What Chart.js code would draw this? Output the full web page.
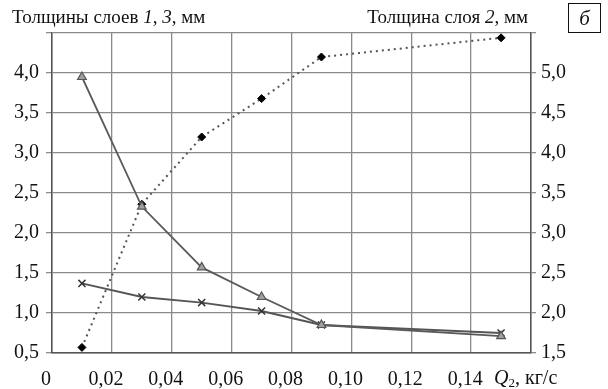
<!DOCTYPE html>
<html>
<head>
<meta charset="utf-8">
<script src="https://cdn.jsdelivr.net/npm/chart.js@4"></script>
<style>
  body { margin: 0; background: #fff; }
  #wrap { width: 608px; height: 389px; }
</style>
</head>
<body>
<div id="wrap"><canvas id="layers" width="608" height="389"></canvas></div>
<script>
// расход Q2, кг/с
const q2 = [0.01, 0.03, 0.05, 0.07, 0.09, 0.15];
// толщина слоя 1 (треугольники), мм
const layer1 = [3.95, 2.33, 1.57, 1.20, 0.85, 0.71];
// толщина слоя 3 (крестики), мм
const layer3 = [1.37, 1.20, 1.13, 1.025, 0.85, 0.75];
// толщина слоя 2 (ромбы, правая ось), мм
const layer2 = [1.57, 3.36, 4.20, 4.68, 5.20, 5.44];

const FONT = '"Liberation Serif", "Times New Roman", serif';
const SIZE = 19;
const TICK_SIZE = 20;

function pts(xs, ys) {
  return xs.map((x, i) => ({ x: x, y: ys[i] }));
}

function comma(v, d) {
  return v.toFixed(d).replace('.', ',');
}

// подписи осей и буква рисунка
const captions = {
  id: 'captions',
  afterDraw(chart) {
    const c = chart.ctx;
    c.save();
    c.fillStyle = '#111';
    c.textBaseline = 'alphabetic';
    const normal = SIZE + 'px ' + FONT;
    const italic = 'italic ' + SIZE + 'px ' + FONT;

    function run(parts, x, y) {
      parts.forEach(p => {
        c.font = p[1] ? italic : normal;
        c.fillText(p[0], x, y);
        x += c.measureText(p[0]).width;
      });
      return x;
    }
    function width(parts) {
      let w = 0;
      parts.forEach(p => {
        c.font = p[1] ? italic : normal;
        w += c.measureText(p[0]).width;
      });
      return w;
    }

    run([['Толщины слоев ', 0], ['1', 1], [', ', 0], ['3', 1], [', мм', 0]], 12, 23);
    const right = [['Толщина слоя ', 0], ['2', 1], [', мм', 0]];
    run(right, 528 - width(right), 23);

    // Q2, кг/с под правым краем оси
    c.font = 'italic ' + TICK_SIZE + 'px ' + FONT;
    c.fillText('Q', 494, 384);
    let x = 494 + c.measureText('Q').width;
    c.font = '13px ' + FONT;
    c.fillText('2', x, 387);
    x += c.measureText('2').width;
    c.font = TICK_SIZE + 'px ' + FONT;
    c.fillText(', кг/с', x, 384);

    // рамка с буквой
    c.strokeStyle = '#111';
    c.lineWidth = 1;
    c.strokeRect(568.5, 3.5, 32, 29);
    c.font = 'italic 21px ' + FONT;
    c.textAlign = 'center';
    c.fillText('б', 584.5, 25);
    c.restore();
  }
};

const grid = {
  color: '#8a8a8a',
  lineWidth: 1.3
};

new Chart(document.getElementById('layers'), {
  type: 'scatter',
  data: {
    datasets: [
      {
        label: 'Слой 1',
        data: pts(q2, layer1),
        yAxisID: 'y',
        showLine: true,
        borderColor: '#5a5a5a',
        borderWidth: 1.8,
        pointStyle: 'triangle',
        pointRadius: 5,
        pointBackgroundColor: '#a0a0a0',
        pointBorderColor: '#555',
        pointBorderWidth: 1.2
      },
      {
        label: 'Слой 3',
        data: pts(q2, layer3),
        yAxisID: 'y',
        showLine: true,
        borderColor: '#555',
        borderWidth: 1.8,
        pointStyle: 'crossRot',
        pointRadius: 5,
        pointBorderColor: '#333',
        pointBorderWidth: 1.5
      },
      {
        label: 'Слой 2',
        data: pts(q2, layer2),
        yAxisID: 'y2',
        showLine: true,
        borderColor: '#555',
        borderWidth: 2,
        borderDash: [2, 4],
        pointStyle: 'rectRot',
        pointRadius: 4,
        pointBackgroundColor: '#000',
        pointBorderColor: '#000',
        pointBorderWidth: 1
      }
    ]
  },
  options: {
    responsive: false,
    animation: false,
    layout: { padding: { top: 33, left: 0, right: 0, bottom: 0 } },
    plugins: { legend: { display: false }, tooltip: { enabled: false } },
    scales: {
      x: {
        type: 'linear',
        min: 0,
        max: 0.16,
        border: { color: '#555', width: 1.5 },
        grid: Object.assign({ drawTicks: false }, grid),
        ticks: {
          stepSize: 0.02,
          padding: 15,
          labelOffset: -6,
          color: '#111',
          font: { family: FONT, size: TICK_SIZE },
          callback: v => {
            if (Math.abs(v) < 1e-9) return '0';
            if (v > 0.155) return '';
            return comma(v, 2);
          }
        },
        afterFit: s => { s.height = 36; }
      },
      y: {
        position: 'left',
        min: 0.5,
        max: 4.5,
        border: { color: '#555', width: 1.5 },
        grid: Object.assign({ tickLength: 6 }, grid),
        ticks: {
          stepSize: 0.5,
          padding: 7,
          color: '#111',
          font: { family: FONT, size: TICK_SIZE },
          callback: v => (v > 4.4 ? '' : comma(v, 1))
        },
        afterFit: s => { s.width = 52; }
      },
      y2: {
        position: 'right',
        min: 1.5,
        max: 5.5,
        border: { color: '#555', width: 1.5 },
        grid: { drawOnChartArea: false, tickLength: 5, color: '#8a8a8a', lineWidth: 1.3 },
        ticks: {
          stepSize: 0.5,
          padding: 5,
          color: '#111',
          font: { family: FONT, size: TICK_SIZE },
          callback: v => (v > 5.4 ? '' : comma(v, 1))
        },
        afterFit: s => { s.width = 77; }
      }
    }
  },
  plugins: [captions]
});
</script>
</body>
</html>
